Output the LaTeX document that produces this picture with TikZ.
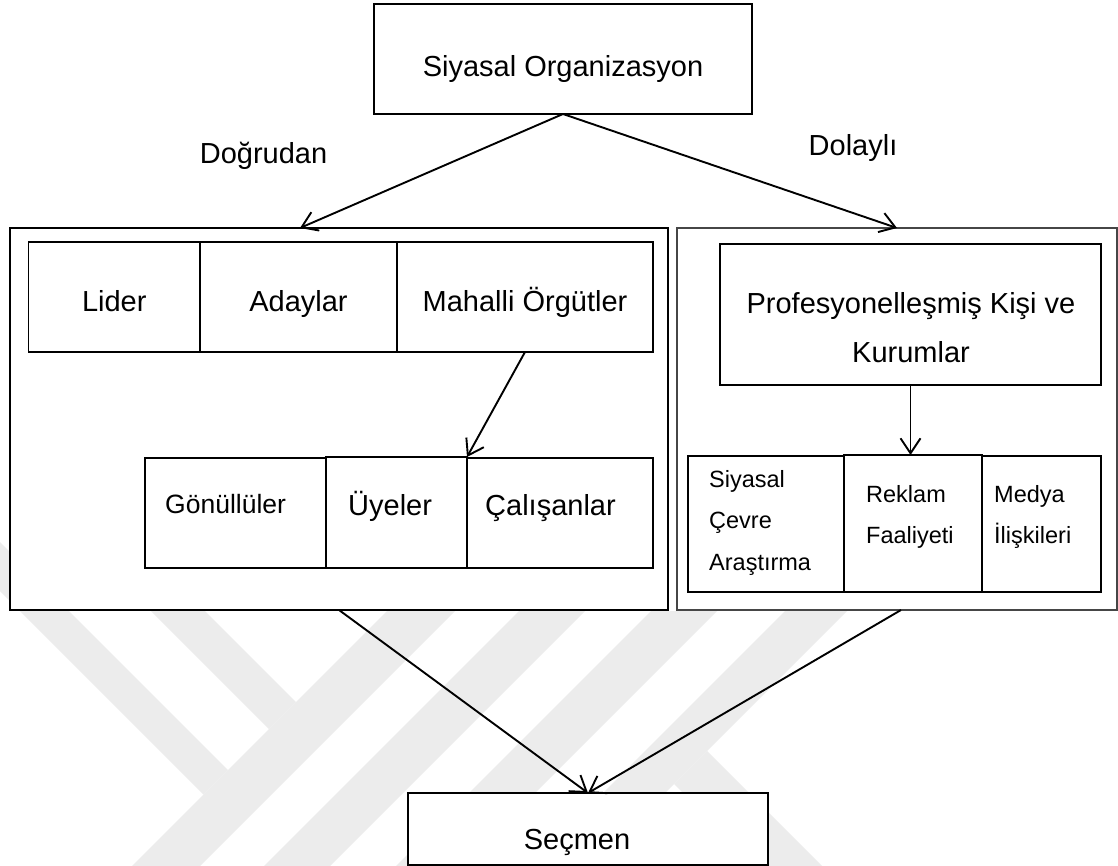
\documentclass[tikz,border=0pt]{standalone}
\usepackage{fontspec}
\setmainfont{Liberation Sans}
\usetikzlibrary{arrows.meta,calc}
\definecolor{wm}{RGB}{236,236,236}
\definecolor{rbgray}{RGB}{70,70,70}
\tikzset{
  bx/.style n args={2}{draw=black,line width=1.3pt,fill=white,rectangle,inner sep=0pt,outer sep=0pt,minimum width=#1,minimum height=#2},
  bigtxt/.style={font=\fontsize{29}{35}\selectfont,inner sep=0pt},
  midtxt/.style={font=\fontsize{26.5}{32}\selectfont,inner sep=0pt},
  twoline/.style={font=\fontsize{29}{49}\selectfont,inner sep=0pt,align=center},
  smltxt/.style={font=\fontsize{23.5}{41.5}\selectfont,inner sep=0pt,align=left},
  arr/.style={line width=1.9pt,-{Straight Barb[length=15pt,width=20pt]}},
}
\begin{document}
\begin{tikzpicture}[x=1pt,y=-1pt]
\useasboundingbox (0,0) rectangle (1118,866);
\fill[white] (0,0) rectangle (1118,866);
% faint watermark in the background
\begin{scope}
  \clip (0,540) rectangle (9,611) (0,611) rectangle (1118,866);
  \fill[wm] (132,866) -- (200,866) -- (526,540) -- (458,540) -- cycle;
  \fill[wm] (264,866) -- (330,866) -- (656,540) -- (590,540) -- cycle;
  \fill[wm] (396,866) -- (462,866) -- (788,540) -- (722,540) -- cycle;
  \fill[wm] (530,866) -- (592,866) -- (918,540) -- (856,540) -- cycle;
  \fill[wm] (-20,522) -- (228,770) -- (203.5,794.5) -- (-20,571) -- cycle;
  \fill[wm] (134,540) -- (296,702) -- (269,729) -- (80,540) -- cycle;
  \fill[wm] (707,751) -- (850,894) -- (784,894) -- (674,784) -- cycle;
\end{scope}

% top box and labels
\node[bx={378pt}{110pt}] (org) at (563,59) {};
\node[bigtxt,anchor=base] (orgt) at (563,77) {Siyasal Organizasyon};
\node[bigtxt,anchor=base] (dog) at (263.5,164) {Doğrudan};
\node[bigtxt,anchor=base] (dol) at (853,156) {Dolaylı};

% big frames
\node[bx={658pt}{382pt}] (lb) at (339,419) {};
\node[bx={440pt}{382pt},draw=rbgray] (rb) at (897,419) {};

% left frame: top row
\node[bx={171.4pt}{110pt}] (lid) at (114.3,297) {};
\node[bx={197pt}{110pt}] (ada) at (298.5,297) {};
\node[bx={256pt}{110pt}] (mah) at (525,297) {};
\node[bigtxt,anchor=base] (lidt) at (114.3,312) {Lider};
\node[bigtxt,anchor=base] (adat) at (298.5,312) {Adaylar};
\node[bigtxt,anchor=base] (maht) at (525,312) {Mahalli Örgütler};

% left frame: bottom row
\node[bx={181pt}{110pt}] (gon) at (235.5,513) {};
\node[bx={141pt}{111pt}] (uye) at (396.5,512.5) {};
\node[bx={186pt}{110pt}] (cal) at (560,513) {};
\node[midtxt,anchor=base west] (gont) at (165,513) {Gönüllüler};
\node[bigtxt,anchor=base west] (uyet) at (348,515) {Üyeler};
\node[bigtxt,anchor=base west] (calt) at (485,515) {Çalışanlar};

% right frame
\node[bx={381pt}{141pt}] (pro) at (910.5,314.5) {};
\node[twoline,anchor=north] (prot) at (911,291.8) {Profesyonelleşmiş Kişi ve\\Kurumlar};

\node[bx={156pt}{136pt}] (sic) at (766,524) {};
\node[bx={138pt}{137pt}] (rek) at (913,523.5) {};
\node[bx={119pt}{136pt}] (med) at (1041.5,524) {};
\node[smltxt,anchor=north west] (sict) at (709,469.9) {Siyasal\\Çevre\\Araştırma};
\node[smltxt,anchor=north west] (rekt) at (866,484.9) {Reklam\\Faaliyeti};
\node[smltxt,anchor=north west] (medt) at (994,484.9) {Medya\\İlişkileri};

% bottom box
\node[bx={360pt}{72pt}] (sec) at (588,829) {};
\node[bigtxt,anchor=base] (sect) at (577,849) {Seçmen};

% connectors
\draw[arr] (org.south) -- ([xshift=-39pt]lb.north);
\draw[arr] (org.south) -- (rb.north);
\draw[arr] (mah.south) -- (uye.north east);
\draw[arr] (pro.south) -- (pro.south |- rek.north);
\draw[arr] (lb.south) -- (sec.north);
\draw[arr] ([xshift=4pt]rb.south) -- (sec.north);
\end{tikzpicture}
\end{document}
